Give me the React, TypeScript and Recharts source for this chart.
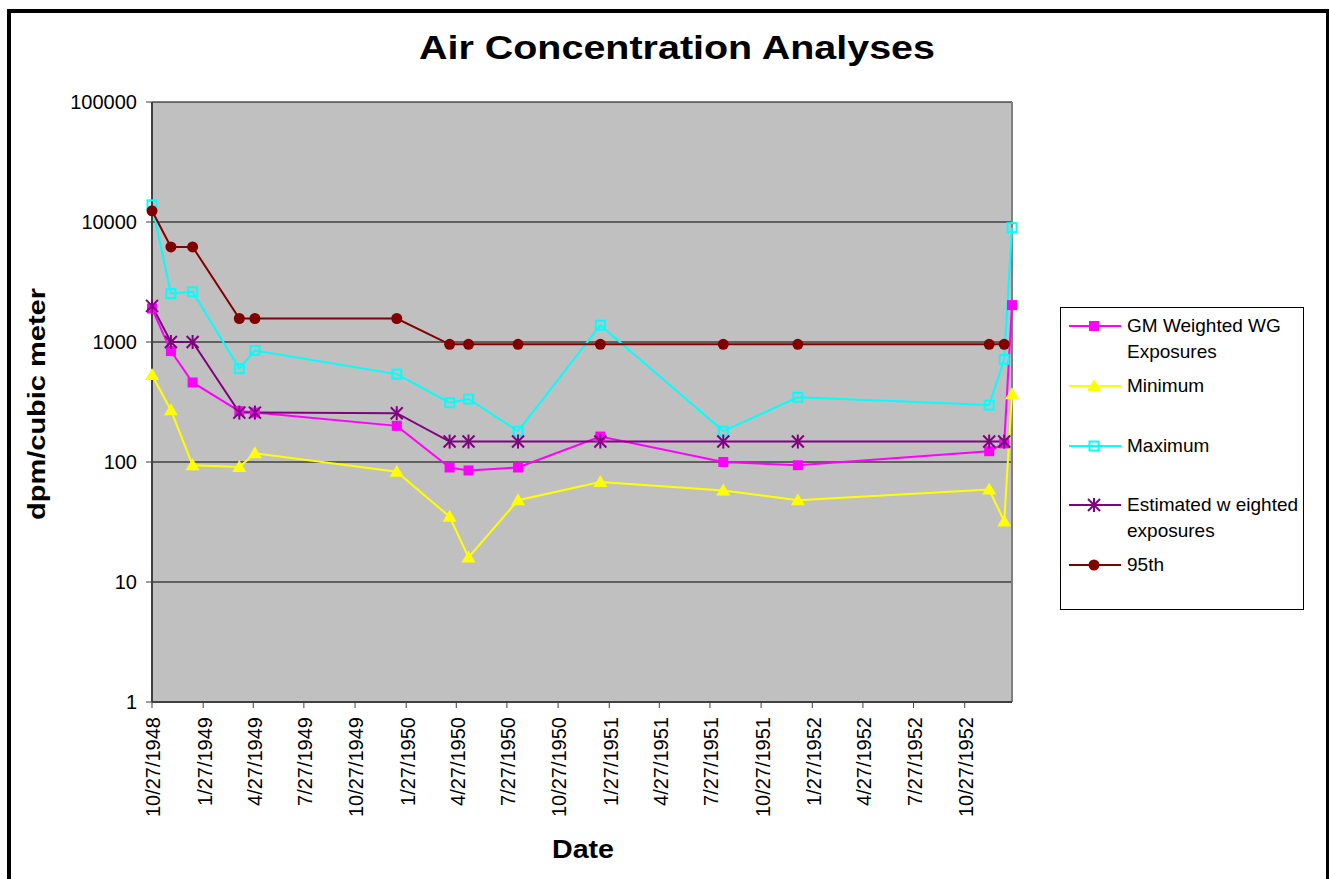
import React from 'react';
import { LineChart, Line, XAxis, YAxis, CartesianGrid, Legend, ReferenceLine } from 'recharts';

const FONT = "'Liberation Sans', Arial, Helvetica, sans-serif";

// sample dates (m/d/yyyy)
const dates = [
  '10/27/1948', '11/30/1948', '1/8/1949', '4/2/1949', '4/30/1949',
  '1/10/1950', '4/15/1950', '5/19/1950', '8/16/1950', '1/11/1951',
  '8/20/1951', '1/1/1952', '12/10/1952', '1/6/1953', '1/20/1953',
];

// dpm / cubic meter
const gmWeighted = [1900, 840, 460, 265, 258, 200, 90, 85, 90, 163, 100, 94, 123, 143, 2030];
const minimum = [530, 270, 94, 91, 118, 83, 35, 16, 48, 68, 58, 48, 59, 32, 367];
const maximum = [13900, 2530, 2620, 600, 850, 540, 312, 335, 181, 1380, 181, 346, 298, 717, 8970];
const estimated = [2000, 1000, 1000, 258, 258, 255, 148, 148, 148, 148, 148, 148, 148, 148, null];
const pct95 = [12400, 6200, 6200, 1570, 1570, 1570, 957, 957, 957, 957, 957, 957, 957, 957, null];

const xTickLabels = [
  '10/27/1948', '1/27/1949', '4/27/1949', '7/27/1949', '10/27/1949',
  '1/27/1950', '4/27/1950', '7/27/1950', '10/27/1950', '1/27/1951',
  '4/27/1951', '7/27/1951', '10/27/1951', '1/27/1952', '4/27/1952',
  '7/27/1952', '10/27/1952',
];
const yTicks = [1, 10, 100, 1000, 10000, 100000];

const toDay = (s: string) => {
  const [m, d, y] = s.split('/').map(Number);
  return Date.UTC(y, m - 1, d) / 86400000;
};

const data = dates.map((d, i) => ({
  t: toDay(d),
  gm: gmWeighted[i],
  min: minimum[i],
  max: maximum[i],
  est: estimated[i],
  p95: pct95[i],
}));

const xTicks = xTickLabels.map(toDay);
const xDomain = [toDay(dates[0]), toDay(dates[dates.length - 1])];

const series = [
  { key: 'gm', name: 'GM Weighted WG Exposures', color: '#FF00FF', marker: 'square' },
  { key: 'min', name: 'Minimum', color: '#FFFF00', marker: 'triangle' },
  { key: 'max', name: 'Maximum', color: '#00FFFF', marker: 'open' },
  { key: 'est', name: 'Estimated w eighted exposures', color: '#800080', marker: 'star' },
  { key: 'p95', name: '95th', color: '#800000', marker: 'circle' },
];

function Marker({ kind, x, y, color }: { kind: string; x: number; y: number; color: string }) {
  switch (kind) {
    case 'square':
      return <rect x={x - 5} y={y - 5} width={10} height={10} fill={color} />;
    case 'triangle':
      return <polygon points={`${x},${y - 7} ${x + 7},${y + 5} ${x - 7},${y + 5}`} fill={color} />;
    case 'open':
      return <rect x={x - 4.5} y={y - 4.5} width={9} height={9} fill="none" stroke={color} strokeWidth={2} />;
    case 'star':
      return (
        <g stroke={color} strokeWidth={2}>
          <line x1={x - 6} y1={y - 6} x2={x + 6} y2={y + 6} />
          <line x1={x - 6} y1={y + 6} x2={x + 6} y2={y - 6} />
          <line x1={x} y1={y - 7} x2={x} y2={y + 7} />
        </g>
      );
    default:
      return <circle cx={x} cy={y} r={5.5} fill={color} />;
  }
}

const makeDot = (kind: string, color: string) => (props: any) => {
  const { cx, cy, value, index } = props;
  if (cx == null || cy == null || value == null) return <g key={`d-${index}`} />;
  return (
    <g key={`d-${index}`}>
      <Marker kind={kind} x={cx} y={cy} color={color} />
    </g>
  );
};

const DateTick = (props: any) => {
  const { x, y, payload } = props;
  const label = xTickLabels[xTicks.indexOf(payload.value)] ?? '';
  return (
    <g transform={`translate(${x},${y + 9})`}>
      <text transform="rotate(-90)" textAnchor="end" dy="0.42em" fontSize={20} fill="#000" fontFamily={FONT}>
        {label}
      </text>
    </g>
  );
};

// legend keeps the series order (recharts sorts the payload by name)
const renderLegend = () => (
  <div style={{
    width: 244, height: 303, border: '1px solid #000', background: '#fff',
    paddingTop: 5, boxSizing: 'border-box', fontFamily: FONT, fontSize: 19, color: '#000',
  }}>
    {series.map((s) => (
      <div key={s.key} style={{ height: 59.8, display: 'flex', alignItems: 'flex-start' }}>
        <svg width={52} height={26} style={{ marginLeft: 8, flex: 'none' }}>
          <line x1={0} y1={13} x2={52} y2={13} stroke={s.color} strokeWidth={2} />
          <Marker kind={s.marker} x={25} y={13} color={s.color} />
        </svg>
        <div style={{ marginLeft: 6, width: 178, lineHeight: '26px' }}>{s.name}</div>
      </div>
    ))}
  </div>
);

export default function App() {
  return (
    <div style={{ position: 'absolute', left: 0, top: 0, width: 1329, height: 879, overflow: 'hidden', background: '#fff' }}>
      <div style={{
        position: 'absolute', left: 7, top: 9, width: 1322, height: 900, boxSizing: 'border-box',
        borderLeft: '4px solid #000', borderTop: '4px solid #000', borderRight: '3px solid #000',
      }} />
      <LineChart
        width={1329}
        height={879}
        data={data}
        margin={{ top: 102, right: 317, bottom: 0, left: 0 }}
        style={{ position: 'absolute', left: 0, top: 0 }}
      >
        <CartesianGrid vertical={false} stroke="#000" strokeWidth={1} fill="#C0C0C0" fillOpacity={1} />
        <XAxis
          type="number"
          dataKey="t"
          domain={xDomain}
          ticks={xTicks}
          interval={0}
          height={177}
          tickSize={6}
          tickMargin={0}
          tick={<DateTick />}
          axisLine={{ stroke: '#404040', strokeWidth: 2 }}
          tickLine={{ stroke: '#404040' }}
        />
        <YAxis
          scale="log"
          domain={[1, 100000]}
          ticks={yTicks}
          interval={0}
          allowDataOverflow
          width={152}
          tickSize={6}
          tickMargin={9}
          tickFormatter={(v: number) => String(v)}
          tick={{ fill: '#000', fontSize: 20, fontFamily: FONT }}
          axisLine={{ stroke: '#404040', strokeWidth: 2 }}
          tickLine={{ stroke: '#404040' }}
        />
        <ReferenceLine x={xDomain[1]} stroke="#808080" strokeWidth={2} />
        {series.map((s) => (
          <Line
            key={s.key}
            type="linear"
            dataKey={s.key}
            name={s.name}
            stroke={s.color}
            strokeWidth={2}
            dot={makeDot(s.marker, s.color)}
            activeDot={false}
            isAnimationActive={false}
          />
        ))}
        <Legend
          layout="vertical"
          align="center"
          verticalAlign="middle"
          content={renderLegend}
          wrapperStyle={{ left: 1060, top: 307, width: 246, height: 305 }}
        />
      </LineChart>
      <svg width={1329} height={879} style={{ position: 'absolute', left: 0, top: 0, pointerEvents: 'none' }}>
        <text x={677} y={59} textAnchor="middle" fontFamily={FONT} fontWeight="bold" fontSize={33}
          textLength={516} lengthAdjust="spacingAndGlyphs">Air Concentration Analyses</text>
        <text x={583} y={858} textAnchor="middle" fontFamily={FONT} fontWeight="bold" fontSize={25}
          textLength={62} lengthAdjust="spacingAndGlyphs">Date</text>
        <text transform="translate(45,404) rotate(-90)" textAnchor="middle" fontFamily={FONT} fontWeight="bold"
          fontSize={23} textLength={232} lengthAdjust="spacingAndGlyphs">dpm/cubic meter</text>
      </svg>
    </div>
  );
}
